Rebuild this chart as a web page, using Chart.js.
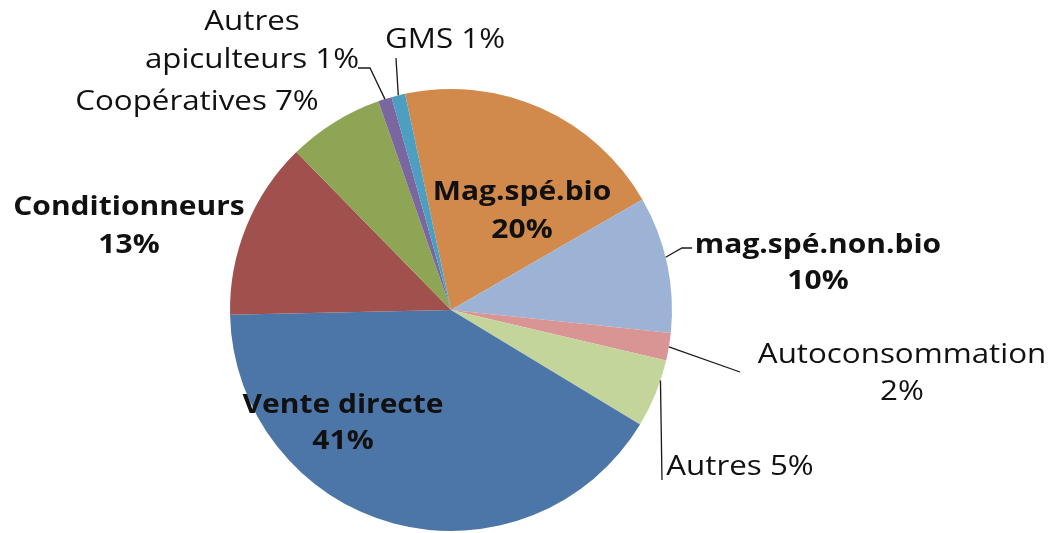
<!DOCTYPE html>
<html><head><meta charset="utf-8">
<script src="https://cdn.jsdelivr.net/npm/chart.js@4.4.1/dist/chart.umd.min.js"></script>
<style>html,body{margin:0;padding:0;background:#fff}#wrap{width:1055px;height:533px;position:relative}</style>
</head><body><div id="wrap"><canvas id="c" width="1055" height="533"></canvas></div>
<script>
const categories = ["Mag.spé.bio","mag.spé.non.bio","Autoconsommation","Autres","Vente directe","Conditionneurs","Coopératives","Autres apiculteurs","GMS"];
const values = [20,10,2,5,41,13,7,1,1];
const colors = ["#D28A4C","#9DB3D6","#D99593","#C4D59C","#4D76A8","#A0514E","#8FA556","#7B679F","#4C9FC0"];
const labelLines = [["Mag.spé.bio","20%"],["mag.spé.non.bio","10%"],["Autoconsommation","2%"],["Autres 5%"],["Vente directe","41%"],["Conditionneurs","13%"],["Coopératives 7%"],["Autres","apiculteurs 1%"],["GMS 1%"]];
const labelBold = [true,true,false,false,true,true,false,false,false];
const layoutCfg = [
 {x:522,y:[192,230]},
 {x:818,y:[245,281],lead:[[682,248],[692,248]],frac:0.45},
 {x:902,y:[355,392],lead:[[740,372]],frac:0.5},
 {x:740,y:[467],lead:[[662,480]],frac:0.3},
 {x:343,y:[405,441]},
 {x:129,y:[207,245]},
 {x:197,y:[102]},
 {x:252,y:[22,60],lead:[[370,68],[358,68]],frac:0.5},
 {x:445,y:[40],lead:[[396,58]],frac:0.5}
];
const labelPlugin = {
  id:'labels',
  afterDraw(chart){
    const ctx = chart.ctx;
    const meta = chart.getDatasetMeta(0);
    ctx.save();
    meta.data.forEach((arc,i)=>{
      const L = layoutCfg[i];
      if (L.lead){
        const a = arc.startAngle + (arc.endAngle-arc.startAngle)*L.frac;
        const r = arc.outerRadius;
        const ax = arc.x + Math.cos(a)*r, ay = arc.y + Math.sin(a)*r;
        ctx.beginPath();
        ctx.moveTo(ax,ay);
        L.lead.forEach(p=>ctx.lineTo(p[0],p[1]));
        ctx.strokeStyle='#1a1a1a'; ctx.lineWidth=1.3; ctx.stroke();
      }
      ctx.fillStyle='#111';
      ctx.textAlign='center'; ctx.textBaseline='middle';
      ctx.font = (labelBold[i]?'bold ':'') + '27px "Open Sans", sans-serif';
      const sx = labelBold[i]?1.11:1.16;
      labelLines[i].forEach((t,j)=>{
        ctx.save();
        ctx.translate(L.x, L.y[j]);
        ctx.scale(sx,1);
        ctx.fillText(t,0,0);
        ctx.restore();
      });
    });
    ctx.restore();
  }
};
new Chart(document.getElementById('c'),{
  type:'pie',
  data:{labels:categories,datasets:[{data:values,backgroundColor:colors,borderWidth:0}]},
  options:{
    responsive:false,animation:false,rotation:-12,
    layout:{padding:{left:230,right:383,top:89,bottom:2}},
    plugins:{legend:{display:false},tooltip:{enabled:false}}
  },
  plugins:[labelPlugin]
});
</script></body></html>
